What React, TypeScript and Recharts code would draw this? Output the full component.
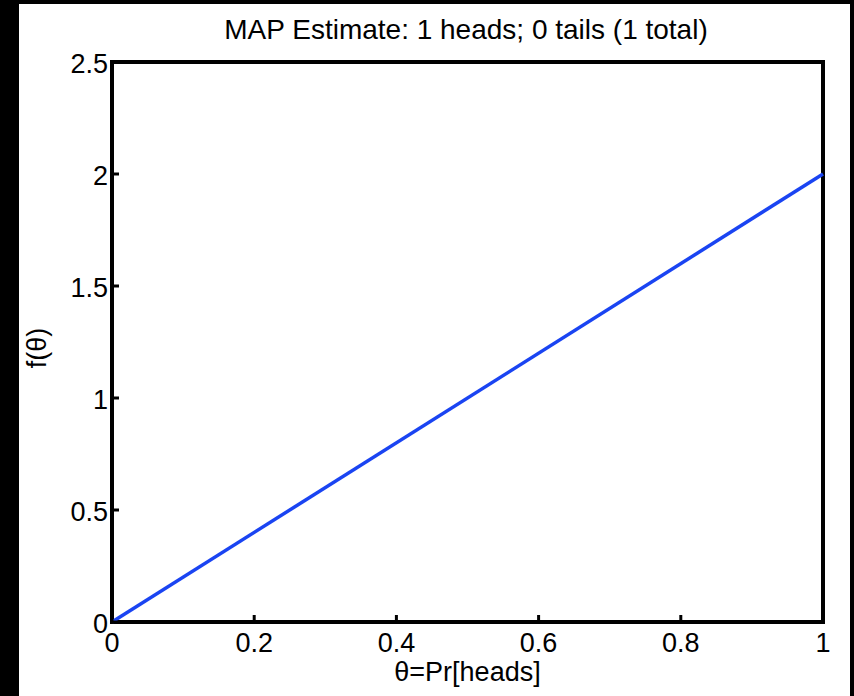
import { LineChart, Line, XAxis, YAxis, ReferenceArea } from "recharts";

// posterior density of theta after one toss (1 head, 0 tails)
const theta = [0, 1];
const density = [0, 2];

const xTicks = [0, 0.2, 0.4, 0.6, 0.8, 1];
const yTicks = [0, 0.5, 1, 1.5, 2, 2.5];

const chartData = theta.map((t, i) => ({ theta: t, f: density[i] }));

const FONT = "'Liberation Sans', Arial, Helvetica, sans-serif";
const TICK_LEN = 7;
const LABEL_SIZE = 27;

// ticks point into the plot box, the way MATLAB draws them
function BottomTick(props: any) {
  const { x, y, payload } = props;
  return (
    <g>
      <line x1={x} y1={y} x2={x} y2={y - TICK_LEN} stroke="#000" strokeWidth={3} />
      <text x={x} y={y + 30} textAnchor="middle" fontSize={LABEL_SIZE} fontFamily={FONT} fill="#000">
        {String(payload.value)}
      </text>
    </g>
  );
}

function TopTick(props: any) {
  const { x, y } = props;
  return <line x1={x} y1={y} x2={x} y2={y + TICK_LEN} stroke="#000" strokeWidth={3} />;
}

function LeftTick(props: any) {
  const { x, y, payload } = props;
  return (
    <g>
      <line x1={x} y1={y} x2={x + TICK_LEN} y2={y} stroke="#000" strokeWidth={3} />
      <text x={x - 4} y={y} dy="0.4em" textAnchor="end" fontSize={LABEL_SIZE} fontFamily={FONT} fill="#000">
        {String(payload.value)}
      </text>
    </g>
  );
}

function RightTick(props: any) {
  const { x, y } = props;
  return <line x1={x} y1={y} x2={x - TICK_LEN} y2={y} stroke="#000" strokeWidth={3} />;
}

export default function App() {
  return (
    <div style={{ position: "fixed", left: 0, top: 0, width: 854, height: 696, background: "#000" }}>
      <div style={{ position: "absolute", left: 19, top: 4, width: 831, height: 692, background: "#fff" }}>
        <div
          style={{
            position: "absolute",
            left: 447,
            top: 12,
            transform: "translateX(-50%)",
            whiteSpace: "nowrap",
            fontFamily: FONT,
            fontSize: 28,
            lineHeight: "28px",
            color: "#000",
          }}
        >
          MAP Estimate: 1 heads; 0 tails (1 total)
        </div>
        <LineChart
          width={831}
          height={692}
          data={chartData}
          margin={{ top: 58, right: 27, bottom: 24, left: 33 }}
        >
          <XAxis
            xAxisId="bottom"
            dataKey="theta"
            type="number"
            domain={[0, 1]}
            ticks={xTicks}
            interval={0}
            height={50}
            axisLine={false}
            tickLine={false}
            tickSize={0}
            tickMargin={0}
            tick={<BottomTick />}
            label={{
              content: ({ viewBox }: any) => (
                <text
                  x={viewBox.x + viewBox.width / 2}
                  y={viewBox.y + 59}
                  textAnchor="middle"
                  fontSize={LABEL_SIZE}
                  fontFamily={FONT}
                  fill="#000"
                >
                  θ=Pr[heads]
                </text>
              ),
            }}
          />
          <XAxis
            xAxisId="top"
            orientation="top"
            dataKey="theta"
            type="number"
            domain={[0, 1]}
            ticks={xTicks}
            interval={0}
            height={0}
            axisLine={false}
            tickLine={false}
            tickSize={0}
            tickMargin={0}
            tick={<TopTick />}
          />
          <YAxis
            yAxisId="left"
            type="number"
            domain={[0, 2.5]}
            ticks={yTicks}
            interval={0}
            width={60}
            axisLine={false}
            tickLine={false}
            tickSize={0}
            tickMargin={0}
            tick={<LeftTick />}
            label={{
              content: ({ viewBox }: any) => {
                const cx = 18;
                const cy = viewBox.y + viewBox.height / 2 + 6;
                return (
                  <text
                    x={cx}
                    y={cy}
                    dy="0.35em"
                    transform={`rotate(-90, ${cx}, ${cy})`}
                    textAnchor="middle"
                    fontSize={LABEL_SIZE}
                    fontFamily={FONT}
                    fill="#000"
                  >
                    f(θ)
                  </text>
                );
              },
            }}
          />
          <YAxis
            yAxisId="right"
            orientation="right"
            type="number"
            domain={[0, 2.5]}
            ticks={yTicks}
            interval={0}
            width={0}
            axisLine={false}
            tickLine={false}
            tickSize={0}
            tickMargin={0}
            tick={<RightTick />}
          />
          <ReferenceArea
            xAxisId="bottom"
            yAxisId="left"
            x1={0}
            x2={1}
            y1={0}
            y2={2.5}
            fill="none"
            stroke="#000"
            strokeWidth={4}
            ifOverflow="visible"
          />
          <Line
            xAxisId="bottom"
            yAxisId="left"
            dataKey="f"
            type="linear"
            stroke="#1a44f2"
            strokeWidth={3.5}
            dot={false}
            activeDot={false}
            isAnimationActive={false}
          />
        </LineChart>
      </div>
    </div>
  );
}
